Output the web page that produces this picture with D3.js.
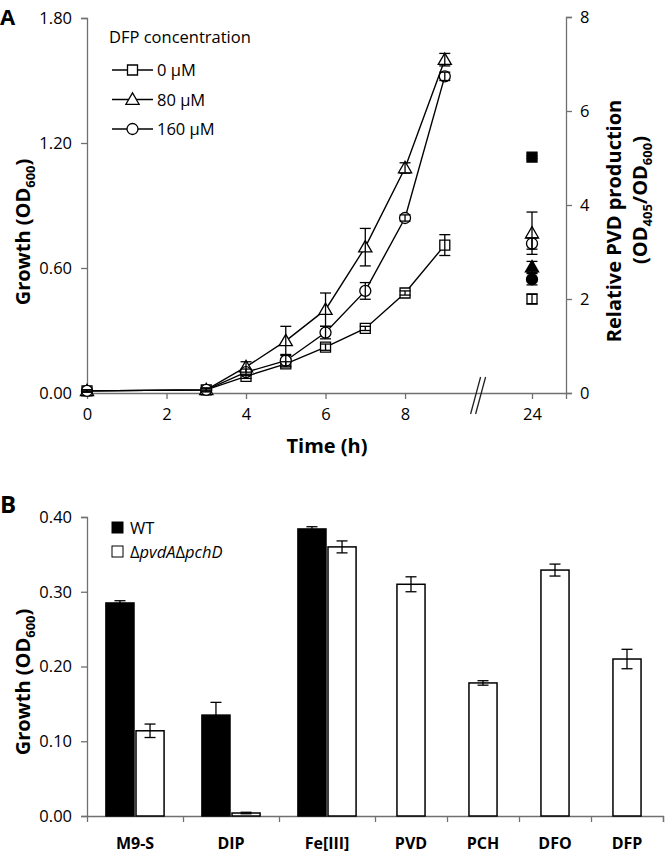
<!DOCTYPE html>
<html><head><meta charset="utf-8">
<script src="https://cdn.jsdelivr.net/npm/d3@7"></script>
<style>
body{margin:0;background:#fff;}
text{font-family:"Open Sans",sans-serif;fill:#000;}
</style></head>
<body>
<svg id="c" width="666" height="853"></svg>
<script>
// ---------- Panel A data ----------
const times = [0, 3, 4, 5, 6, 7, 8, 9];
const od0   = [0.01, 0.015, 0.08, 0.14, 0.22, 0.31, 0.48, 0.71];
const err0  = [0.005, 0.005, 0.01, 0.01, 0.015, 0.01, 0.01, 0.05];
const od80  = [0.01, 0.015, 0.125, 0.25, 0.40, 0.70, 1.08, 1.60];
const err80 = [0.005, 0.01, 0.025, 0.07, 0.08, 0.09, 0.025, 0.03];
const od160 = [0.01, 0.015, 0.10, 0.155, 0.29, 0.49, 0.84, 1.52];
const err160= [0.005, 0.005, 0.015, 0.03, 0.03, 0.04, 0.015, 0.02];
const seriesNames = ["0 µM", "80 µM", "160 µM"];
const seriesShapes = ["square", "triangle", "circle"];
const pvdTime = 24;
const pvdHollow = [2.0, 3.40, 3.18];
const pvdHollowErr = [0.10, 0.45, 0.12];
const pvdFilled = [5.02, 2.68, 2.42];
const pvdFilledErr = [0.03, 0.12, 0.12];
const timeTicks = [0, 2, 4, 6, 8, 24];
const growthTicks = [0, 0.6, 1.2, 1.8];
const pvdTicks = [0, 2, 4, 6, 8];

// ---------- Panel B data ----------
const categories = ["M9-S", "DIP", "Fe[III]", "PVD", "PCH", "DFO", "DFP"];
const wt     = [0.285, 0.135, 0.384, null, null, null, null];
const wtErr  = [0.003, 0.017, 0.003, null, null, null, null];
const mut    = [0.114, 0.004, 0.360, 0.310, 0.178, 0.329, 0.210];
const mutErr = [0.009, 0.001, 0.008, 0.010, 0.003, 0.008, 0.013];
const barTicks = [0, 0.1, 0.2, 0.3, 0.4];

const svg = d3.select("#c");
const axisCol = "#707070";
const tickFont = "16.5px";
const titleFont = "20px";

function symbolPath(shape, size) {
  const t = shape === "square" ? d3.symbolSquare : shape === "triangle" ? d3.symbolTriangle : d3.symbolCircle;
  return d3.symbol().type(t).size(size)();
}
const symSize = {square: 100, triangle: 75, circle: 95};

// ================= PANEL A =================
const yA = d3.scaleLinear().domain([0, 1.8]).range([393, 18]);
const yA2 = d3.scaleLinear().domain([0, 8]).range([393, 17]);
const xA = d3.scaleLinear().domain([0, 9.8, 24, 24.85]).range([87, 476.6, 532, 566]);

const gA = svg.append("g");
const axL = gA.append("g").attr("transform", "translate(87,0)")
  .call(d3.axisLeft(yA).tickValues(growthTicks).tickFormat(d3.format(".2f")).tickSize(6).tickPadding(9));
const axR = gA.append("g").attr("transform", "translate(566,0)")
  .call(d3.axisRight(yA2).tickValues(pvdTicks).tickFormat(d3.format("d")).tickSize(6).tickPadding(8));
const axB = gA.append("g").attr("transform", "translate(0,393)")
  .call(d3.axisBottom(xA).tickValues(timeTicks).tickFormat(d3.format("d")).tickSize(6).tickPadding(9));
[axL, axR, axB].forEach(a => {
  a.selectAll("path,line").attr("stroke", axisCol).attr("stroke-width", 1.3);
  a.selectAll("text").style("font-size", tickFont).attr("fill", "#000").style("font-family", '"Open Sans",sans-serif');
});
axB.selectAll(".tick").filter(d => d === 0).select("line").remove();

// break marks
const bx = xA(9.8);
[0, 5].forEach(off => {
  gA.append("line").attr("x1", bx - 6 + off).attr("y1", 414).attr("x2", bx + 4 + off).attr("y2", 377)
    .attr("stroke", "#222").attr("stroke-width", 1.3);
});

const allSeries = [od0, od80, od160];
const allErr = [err0, err80, err160];
const line = d3.line().x(d => xA(d[0])).y(d => yA(d[1]));
allSeries.forEach((s, i) => {
  gA.append("path").datum(times.map((t, j) => [t, s[j]])).attr("d", line)
    .attr("fill", "none").attr("stroke", "#000").attr("stroke-width", 1.4);
});
allSeries.forEach((s, i) => {
  gA.selectAll(null).data(times.map((t, j) => [t, s[j]])).enter().append("path")
    .attr("d", symbolPath(seriesShapes[i], symSize[seriesShapes[i]]))
    .attr("transform", d => `translate(${xA(d[0])},${yA(d[1]) + (seriesShapes[i] === "triangle" ? 1 : 0)})`)
    .attr("fill", "#fff").attr("stroke", "#000").attr("stroke-width", 1.3);
});
function errBars(g, xs, ys, es, yScale, cap) {
  xs.forEach((x, j) => {
    const y = ys[j], e = es[j];
    if (y == null || e == null) return;
    const y1 = yScale(y - e), y2 = yScale(y + e);
    g.append("line").attr("x1", x).attr("x2", x).attr("y1", y1).attr("y2", y2).attr("stroke", "#000").attr("stroke-width", 1.3);
    [y1, y2].forEach(yy => g.append("line").attr("x1", x - cap).attr("x2", x + cap).attr("y1", yy).attr("y2", yy).attr("stroke", "#000").attr("stroke-width", 1.3));
  });
}
allSeries.forEach((s, i) => {
  errBars(gA, times.map(t => xA(t)), s, allErr[i], yA, 5.5);
});
// PVD points at 24 h
pvdHollow.forEach((v, i) => {
  gA.append("path").attr("d", symbolPath(seriesShapes[i], symSize[seriesShapes[i]]))
    .attr("transform", `translate(${xA(pvdTime)},${yA2(v) + (seriesShapes[i] === "triangle" ? 1 : 0)})`)
    .attr("fill", "#fff").attr("stroke", "#000").attr("stroke-width", 1.3);
});
pvdFilled.forEach((v, i) => {
  gA.append("path").attr("d", symbolPath(seriesShapes[i], symSize[seriesShapes[i]]))
    .attr("transform", `translate(${xA(pvdTime)},${yA2(v) + (seriesShapes[i] === "triangle" ? 1 : 0)})`)
    .attr("fill", "#000").attr("stroke", "#000").attr("stroke-width", 1.3);
});
errBars(gA, pvdHollow.map(() => xA(pvdTime)), pvdHollow, pvdHollowErr, yA2, 5.5);
errBars(gA, pvdFilled.map(() => xA(pvdTime)), pvdFilled, pvdFilledErr, yA2, 5.5);

// legend A
gA.append("text").attr("x", 109).attr("y", 43).style("font-size", tickFont).text("DFP concentration");
seriesNames.forEach((n, i) => {
  const ly = 70 + i * 29.5;
  gA.append("line").attr("x1", 112).attr("x2", 153).attr("y1", ly).attr("y2", ly).attr("stroke", "#000").attr("stroke-width", 1.4);
  gA.append("path").attr("d", symbolPath(seriesShapes[i], symSize[seriesShapes[i]]))
    .attr("transform", `translate(132.5,${ly + (seriesShapes[i] === "triangle" ? 1 : 0)})`)
    .attr("fill", "#fff").attr("stroke", "#000").attr("stroke-width", 1.3);
  gA.append("text").attr("x", 157).attr("y", ly + 6).style("font-size", tickFont).text(n);
});

// titles A
gA.append("text").attr("x", 0).attr("y", 25).style("font-size", "22px").style("font-weight", "bold").text("A");
const tA = gA.append("text").attr("transform", "translate(30,232) rotate(-90)").attr("text-anchor", "middle")
  .style("font-size", titleFont).style("font-weight", "bold");
tA.append("tspan").text("Growth (OD");
tA.append("tspan").attr("dy", 5).style("font-size", "13px").text("600");
tA.append("tspan").attr("dy", -5).text(")");
gA.append("text").attr("x", 327).attr("y", 453).attr("text-anchor", "middle").style("font-size", titleFont).style("font-weight", "bold").text("Time (h)");
gA.append("text").attr("transform", "translate(621,221) rotate(-90)").attr("text-anchor", "middle")
  .style("font-size", titleFont).style("font-weight", "bold").text("Relative PVD production");
const tR = gA.append("text").attr("transform", "translate(647,200) rotate(-90)").attr("text-anchor", "middle")
  .style("font-size", titleFont).style("font-weight", "bold");
tR.append("tspan").text("(OD");
tR.append("tspan").attr("dy", 5).style("font-size", "13px").text("405");
tR.append("tspan").attr("dy", -5).text("/OD");
tR.append("tspan").attr("dy", 5).style("font-size", "13px").text("600");
tR.append("tspan").attr("dy", -5).text(")");

// ================= PANEL B =================
const yB = d3.scaleLinear().domain([0, 0.4]).range([816, 517]);
const units = categories.map((c, i) => wt[i] != null ? 4 : 3);
const starts = units.map((u, i) => d3.sum(units.slice(0, i)));
const xB = d3.scaleLinear().domain([0, d3.sum(units)]).range([87, 663]);
const gB = svg.append("g");
const axBL = gB.append("g").attr("transform", "translate(87,0)")
  .call(d3.axisLeft(yB).tickValues(barTicks).tickFormat(d3.format(".2f")).tickSize(6).tickPadding(9));
const axBB = gB.append("g").attr("transform", "translate(0,816)")
  .call(d3.axisBottom(xB).tickValues(starts.slice(1).concat([d3.sum(units)])).tickFormat("").tickSize(6));
[axBL, axBB].forEach(a => {
  a.selectAll("path,line").attr("stroke", axisCol).attr("stroke-width", 1.3);
  a.selectAll("text").style("font-size", tickFont).attr("fill", "#000").style("font-family", '"Open Sans",sans-serif');
});
const barW = xB(1.17) - xB(0);
const gap = 2;
categories.forEach((c, i) => {
  const mid = xB(starts[i] + units[i] / 2);
  const items = [];
  if (wt[i] != null) {
    items.push({x: mid - gap / 2 - barW, v: wt[i], e: wtErr[i], fill: "#000"});
    items.push({x: mid + gap / 2, v: mut[i], e: mutErr[i], fill: "#fff"});
  } else {
    items.push({x: mid - barW / 2, v: mut[i], e: mutErr[i], fill: "#fff"});
  }
  items.forEach(it => {
    gB.append("rect").attr("x", it.x).attr("y", yB(it.v)).attr("width", barW).attr("height", yB(0) - yB(it.v))
      .attr("fill", it.fill).attr("stroke", "#000").attr("stroke-width", 1.5);
    errBars(gB, [it.x + barW / 2], [it.v], [it.e], yB, 5.5);
  });
  gB.append("text").attr("x", mid).attr("y", 849).attr("text-anchor", "middle")
    .style("font-size", "16px").style("font-weight", "bold").text(c);
});
// legend B
gB.append("rect").attr("x", 112).attr("y", 522).attr("width", 11).attr("height", 11).attr("fill", "#000").attr("stroke", "#000");
gB.append("text").attr("x", 130).attr("y", 534).style("font-size", tickFont).text("WT");
gB.append("rect").attr("x", 112).attr("y", 546).attr("width", 11).attr("height", 11).attr("fill", "#fff").attr("stroke", "#000");
const lt = gB.append("text").attr("x", 130).attr("y", 558).style("font-size", tickFont);
lt.append("tspan").text("Δ");
lt.append("tspan").style("font-style", "italic").text("pvdA");
lt.append("tspan").text("Δ");
lt.append("tspan").style("font-style", "italic").text("pchD");

gB.append("text").attr("x", 0).attr("y", 513).style("font-size", "24px").style("font-weight", "bold").text("B");
const tB = gB.append("text").attr("transform", "translate(30,682) rotate(-90)").attr("text-anchor", "middle")
  .style("font-size", titleFont).style("font-weight", "bold");
tB.append("tspan").text("Growth (OD");
tB.append("tspan").attr("dy", 5).style("font-size", "13px").text("600");
tB.append("tspan").attr("dy", -5).text(")");
</script>
</body></html>
